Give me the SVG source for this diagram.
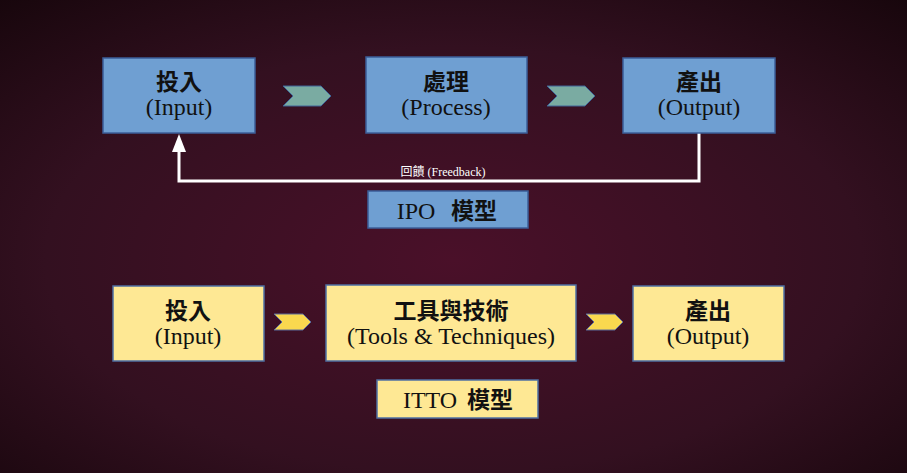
<svg xmlns="http://www.w3.org/2000/svg" width="907" height="473" viewBox="0 0 907 473">
<defs>
<radialGradient id="bg" cx="0.5" cy="0.55" r="0.75">
<stop offset="0" stop-color="#4a1029"/>
<stop offset="0.6" stop-color="#331020"/>
<stop offset="1" stop-color="#17060c"/>
</radialGradient>
<marker id="ah" markerWidth="18" markerHeight="14" refX="0" refY="7" orient="auto" markerUnits="userSpaceOnUse" viewBox="0 0 18 14">
<path d="M0,0 L18,7 L0,14 Z" fill="#ffffff"/>
</marker>
<polygon id="chev" points="0,0 38,0 48,10 38,20 0,20 10,10"/>
<polygon id="chevs" points="0,0 29,0 37,8 29,16 0,16 8,8"/>
</defs>
<style>
.blue{fill:#6f9fd2;stroke:#3b5e99;stroke-width:1.5}
.yel{fill:#fee894;stroke:#4f6fa3;stroke-width:1.5}
.cjk{font-family:"Liberation Serif","Noto Sans CJK TC",serif;font-weight:bold;font-size:23px;fill:#111;text-anchor:middle}
.en{font-family:"Liberation Serif","Noto Sans CJK TC",serif;font-size:24px;fill:#111;text-anchor:middle}
.teal{fill:#7aaba2;stroke:#3e6296;stroke-width:1}
.gold{fill:#f9d84f;stroke:#5a6a9a;stroke-width:1}
</style>
<rect width="907" height="473" fill="url(#bg)"/>
<g id="connectors">
<polyline points="699,133 699,181 179,181 179,152" fill="none" stroke="#ffffff" stroke-width="3" marker-end="url(#ah)"/>
<text x="443" y="176" font-family="'Liberation Serif','Noto Sans CJK TC',serif" font-size="12" fill="#ffffff" text-anchor="middle">回饋 (Freedback)</text>
<use href="#chev" class="teal" x="283" y="86"/>
<use href="#chev" class="teal" x="547" y="86"/>
<use href="#chevs" class="gold" x="274" y="314"/>
<use href="#chevs" class="gold" x="586" y="314"/>
</g>
<g id="ipo-input">
<rect x="103" y="58" width="152" height="75" class="blue"/>
<text x="179" y="90" class="cjk">投入</text>
<text x="179" y="115" class="en">(Input)</text>
</g>
<g id="ipo-process">
<rect x="366" y="57" width="161" height="76" class="blue"/>
<text x="446" y="90" class="cjk">處理</text>
<text x="446" y="115" class="en">(Process)</text>
</g>
<g id="ipo-output">
<rect x="623" y="58" width="152" height="75" class="blue"/>
<text x="699" y="90" class="cjk">產出</text>
<text x="699" y="115" class="en">(Output)</text>
</g>
<g id="ipo-title">
<rect x="368" y="191" width="160" height="37" class="blue"/>
<text x="416" y="219" class="en">IPO</text>
<text x="474" y="219" class="cjk">模型</text>
</g>
<g id="itto-input">
<rect x="113" y="286" width="151" height="75" class="yel"/>
<text x="188" y="319" class="cjk">投入</text>
<text x="188" y="344" class="en">(Input)</text>
</g>
<g id="itto-tools">
<rect x="326" y="285" width="250" height="76" class="yel"/>
<text x="451" y="319" class="cjk">工具與技術</text>
<text x="451" y="344" class="en">(Tools &amp; Techniques)</text>
</g>
<g id="itto-output">
<rect x="633" y="286" width="151" height="75" class="yel"/>
<text x="708" y="319" class="cjk">產出</text>
<text x="708" y="344" class="en">(Output)</text>
</g>
<g id="itto-title">
<rect x="377" y="380" width="161" height="38" class="yel"/>
<text x="430" y="408" class="en">ITTO</text>
<text x="490" y="408" class="cjk">模型</text>
</g>
</svg>
